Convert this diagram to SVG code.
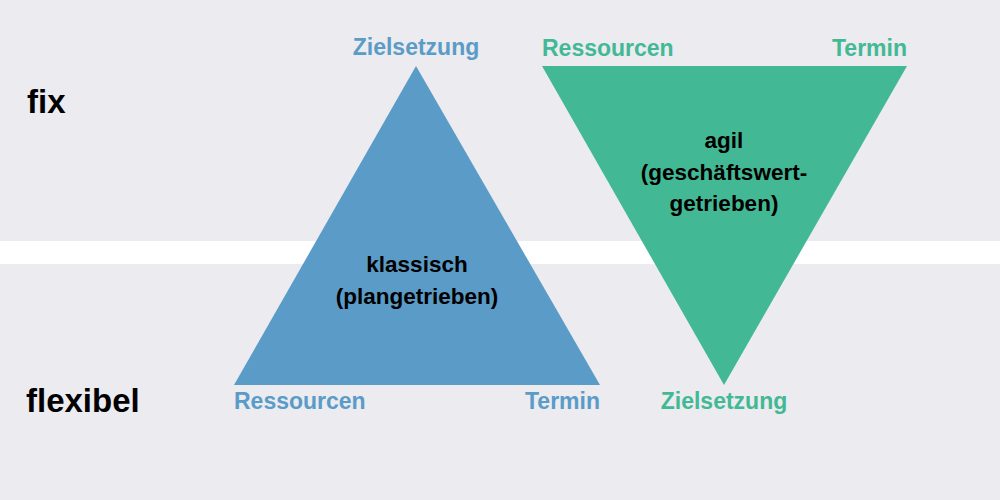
<svg xmlns="http://www.w3.org/2000/svg" width="1000" height="500" viewBox="0 0 1000 500">
<style>
text{font-family:"Liberation Sans",Arial,sans-serif;font-weight:bold}
.lbl{font-size:23px}
.blue{fill:#5A9BC7}
.green{fill:#42B994}
.dark{fill:#000;font-size:22.5px}
.axis{fill:#000;font-size:33px}
</style>
<rect width="1000" height="500" fill="#EBEBF0"/>
<rect x="0" y="241" width="1000" height="23" fill="#FFFFFF"/>
<g id="axis-labels">
<text class="axis" x="27" y="113">fix</text>
<text class="axis" x="26" y="412">flexibel</text>
</g>
<g id="connectors"></g>
<g id="klassisch">
<polygon class="blue" points="416,66 600,385 234,385"/>
<text class="dark" x="417" y="272" text-anchor="middle">klassisch</text>
<text class="dark" x="417" y="304" text-anchor="middle">(plangetrieben)</text>
<text class="lbl blue" x="416" y="55" text-anchor="middle">Zielsetzung</text>
<text class="lbl blue" x="234" y="409">Ressourcen</text>
<text class="lbl blue" x="600" y="409" text-anchor="end">Termin</text>
</g>
<g id="agil">
<polygon class="green" points="542,66 907,66 724,385"/>
<text class="dark" x="724" y="148" text-anchor="middle">agil</text>
<text class="dark" x="724" y="180" text-anchor="middle">(geschäftswert-</text>
<text class="dark" x="724" y="211" text-anchor="middle">getrieben)</text>
<text class="lbl green" x="542" y="56">Ressourcen</text>
<text class="lbl green" x="907" y="56" text-anchor="end">Termin</text>
<text class="lbl green" x="724" y="409" text-anchor="middle">Zielsetzung</text>
</g>
</svg>
